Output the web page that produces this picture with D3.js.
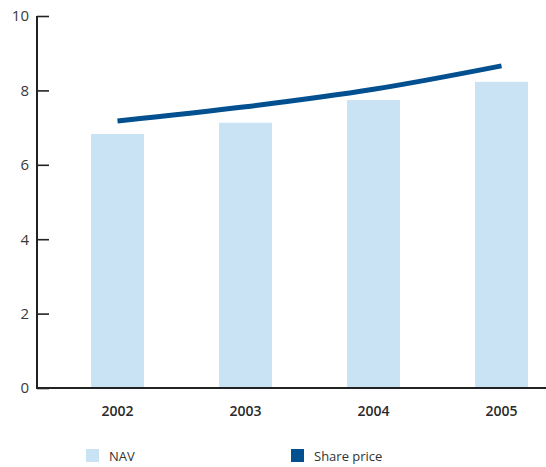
<!DOCTYPE html>
<html><head><meta charset="utf-8">
<script src="https://cdn.jsdelivr.net/npm/d3@7"></script>
<style>body{margin:0;background:#fff}svg{display:block}text{font-family:"Open Sans","DejaVu Sans",sans-serif}</style>
</head><body><svg id="c" width="546" height="467"></svg>
<script>
const years = ["2002","2003","2004","2005"];
const nav = [6.83, 7.13, 7.74, 8.23];
const sharePrice = [7.18, 7.56, 8.03, 8.66];
const yTicks = [0,2,4,6,8,10];
const legendLabels = ["NAV","Share price"];

const svg = d3.select("#c");
const x = d3.scaleBand().domain(years).range([53.5,565.5]).paddingInner(1-53/128).paddingOuter((1-53/128)/2);
const y = d3.scaleLinear().domain([0,10]).range([388,16]);
const navColor = "#c9e3f5", lineColor = "#02508f";

svg.selectAll("rect.bar").data(years).enter().append("rect")
  .attr("x", d=>x(d)).attr("width", x.bandwidth())
  .attr("y", (d,i)=>y(nav[i])).attr("height", (d,i)=>y(0)-y(nav[i]))
  .attr("fill", navColor);

const line = d3.line().x((d,i)=>x(years[i])+x.bandwidth()/2).y(d=>y(d)).curve(d3.curveMonotoneX);
svg.append("path").attr("d", line(sharePrice)).attr("fill","none").attr("stroke",lineColor).attr("stroke-width",5);

// y axis
const ya = svg.append("g").attr("transform","translate(37,0)")
  .call(d3.axisRight(y).tickValues(yTicks).tickSize(12).tickFormat(""));
ya.select(".domain").remove();
ya.selectAll(".tick line").attr("stroke","#222").attr("stroke-width",1.6);
svg.append("line").attr("x1",37).attr("x2",37).attr("y1",y(10)).attr("y2",y(0)).attr("stroke","#222").attr("stroke-width",2);
svg.selectAll("text.yl").data(yTicks).enter().append("text")
  .attr("x",29).attr("y",d=>y(d)).attr("dy","0.36em").attr("text-anchor","end")
  .attr("font-size",15).attr("fill","#3a3a3a").text(d=>d);

// x axis
svg.append("line").attr("x1",36).attr("x2",546).attr("y1",y(0)).attr("y2",y(0)).attr("stroke","#222").attr("stroke-width",2);
svg.selectAll("text.xl").data(years).enter().append("text")
  .attr("x",d=>x(d)+x.bandwidth()/2).attr("y",411).attr("dy","0.36em").attr("text-anchor","middle")
  .attr("font-size",14).attr("font-weight",600).attr("fill","#2a2a2a").text(d=>d);

// legend
const lg = svg.selectAll("g.lg").data(legendLabels).enter().append("g")
  .attr("transform",(d,i)=>`translate(${[86,291][i]},449)`);
lg.append("rect").attr("width",13).attr("height",13).attr("fill",(d,i)=>i?lineColor:navColor);
lg.append("text").attr("x",23).attr("y",7).attr("dy","0.36em").attr("font-size",13).attr("fill","#333").text(d=>d);
</script></body></html>
